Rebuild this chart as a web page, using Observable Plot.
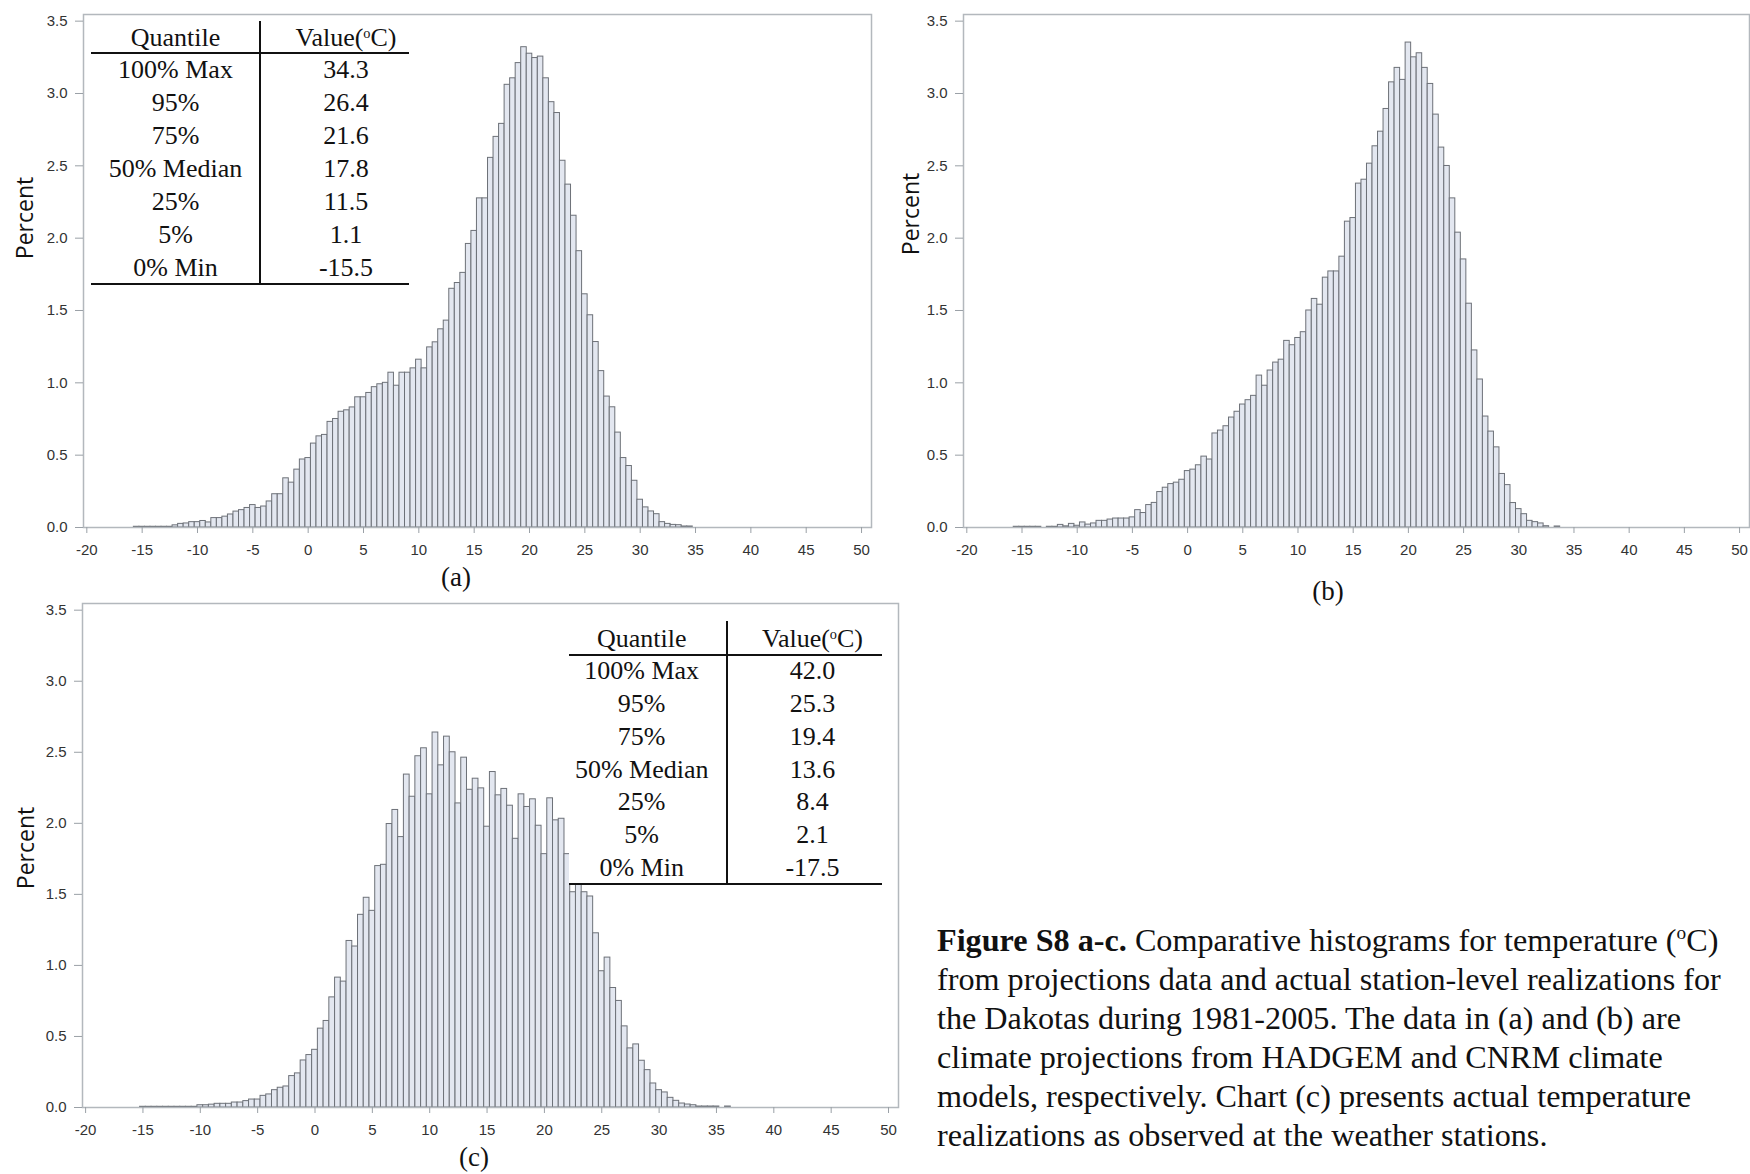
<!DOCTYPE html>
<html>
<head>
<meta charset="utf-8">
<script src="https://cdn.jsdelivr.net/npm/d3@7"></script>
<script src="https://cdn.jsdelivr.net/npm/@observablehq/plot@0.6"></script>
<style>
  html, body { margin: 0; padding: 0; background: #fff; }
  #root { position: relative; width: 1750px; height: 1174px; background: #fff; overflow: hidden; }
  .abs { position: absolute; }
  .serif { font-family: "Liberation Serif", "Times New Roman", serif; color: #111; }
  .ylab { position: absolute; font-family: "Open Sans", "Noto Sans", sans-serif; font-size: 23px; color: #111; white-space: nowrap; transform: translate(-50%, -50%) rotate(-90deg); }
  .sub { position: absolute; transform: translate(-50%, -50%); font-size: 27px; white-space: nowrap; }
  .cell { position: absolute; transform: translate(-50%, -50%); font-size: 26px; white-space: nowrap; line-height: 1; }
  .cell sup { font-size: 55%; vertical-align: 0.55em; }
  .rule { position: absolute; background: #111; }
  #caption { position: absolute; left: 937px; top: 921px; font-size: 32.2px; line-height: 39.1px; white-space: nowrap; }
  #caption sup { font-size: 60%; vertical-align: 0.6em; line-height: 0; }
</style>
</head>
<body>
<div id="root"></div>
<script>
// ---------- data ----------
// bin midpoints (bin width 0.5 deg C)
const binMid = [
  -15.5,-15,-14.5,-14,-13.5,-13,-12.5,-12,-11.5,-11,
  -10.5,-10,-9.5,-9,-8.5,-8,-7.5,-7,-6.5,-6,
  -5.5,-5,-4.5,-4,-3.5,-3,-2.5,-2,-1.5,-1,
  -0.5,0,0.5,1,1.5,2,2.5,3,3.5,4,
  4.5,5,5.5,6,6.5,7,7.5,8,8.5,9,
  9.5,10,10.5,11,11.5,12,12.5,13,13.5,14,
  14.5,15,15.5,16,16.5,17,17.5,18,18.5,19,
  19.5,20,20.5,21,21.5,22,22.5,23,23.5,24,
  24.5,25,25.5,26,26.5,27,27.5,28,28.5,29,
  29.5,30,30.5,31,31.5,32,32.5,33,33.5,34,
  34.5,35,35.5,36
];
const binHalfWidth = 0.25;

// (a) HADGEM projections, percent per bin
const pctA = [
  0.005,0.005,0.005,0.005,0.005,0.005,0.005,0.015,0.025,0.028,
  0.037,0.037,0.045,0.035,0.065,0.065,0.075,0.09,0.11,0.12,
  0.135,0.155,0.135,0.145,0.18,0.23,0.23,0.34,0.31,0.40,
  0.47,0.48,0.58,0.63,0.64,0.73,0.75,0.80,0.81,0.83,
  0.90,0.90,0.93,0.97,0.99,1.00,1.07,0.98,1.07,1.07,
  1.10,1.16,1.10,1.245,1.28,1.37,1.43,1.65,1.69,1.76,
  1.96,2.05,2.275,2.275,2.555,2.70,2.79,3.06,3.105,3.21,
  3.32,3.275,3.245,3.255,3.105,2.94,2.865,2.535,2.37,2.155,
  1.91,1.612,1.467,1.282,1.081,0.905,0.831,0.656,0.48,0.425,
  0.323,0.192,0.139,0.111,0.092,0.037,0.025,0.018,0.016,0.007,
  0.007,0,0,0
];

// (b) CNRM projections, percent per bin
const pctB = [
  0.005,0.005,0.005,0.005,0.005,0,0.005,0.005,0.018,0.008,
  0.025,0.012,0.035,0.02,0.028,0.046,0.046,0.055,0.062,0.062,
  0.062,0.07,0.12,0.10,0.155,0.17,0.245,0.275,0.30,0.31,
  0.33,0.39,0.40,0.43,0.49,0.47,0.65,0.67,0.70,0.76,
  0.80,0.85,0.88,0.91,1.05,0.98,1.085,1.14,1.16,1.29,
  1.26,1.31,1.35,1.50,1.58,1.54,1.727,1.77,1.77,1.872,
  2.114,2.139,2.377,2.404,2.515,2.635,2.736,2.893,3.077,3.177,
  3.094,3.352,3.25,3.278,3.177,3.066,2.854,2.626,2.499,2.275,
  2.038,1.853,1.547,1.224,1.023,0.767,0.663,0.554,0.37,0.293,
  0.169,0.127,0.092,0.046,0.037,0.028,0.009,0,0.007,0,
  0,0,0,0
];

// (c) station observations, percent per bin
const pctC = [
  0,0.005,0.005,0.005,0.005,0.005,0.005,0.005,0.005,0.005,
  0.005,0.016,0.016,0.02,0.026,0.026,0.026,0.035,0.035,0.045,
  0.056,0.056,0.082,0.092,0.122,0.139,0.148,0.221,0.24,0.331,
  0.369,0.406,0.555,0.609,0.775,0.914,0.886,1.172,1.133,1.356,
  1.476,1.384,1.699,1.708,1.995,2.094,1.903,2.343,2.187,2.472,
  2.528,2.204,2.639,2.408,2.61,2.50,2.14,2.462,2.236,2.314,
  2.246,1.976,2.361,2.197,2.242,2.124,1.891,2.204,2.115,2.169,
  1.983,1.783,2.176,2.021,2.032,1.783,1.515,1.62,1.515,1.485,
  1.226,0.959,1.055,0.841,0.75,0.571,0.416,0.444,0.329,0.263,
  0.169,0.122,0.106,0.068,0.047,0.028,0.021,0.016,0.007,0.007,
  0.007,0.007,0,0.007
];

const xTicks = [-20,-15,-10,-5,0,5,10,15,20,25,30,35,40,45,50];
const yTicks = [0,0.5,1.0,1.5,2.0,2.5,3.0,3.5];

const quantileLabels = ["100% Max","95%","75%","50% Median","25%","5%","0% Min"];
const quantValuesA = ["34.3","26.4","21.6","17.8","11.5","1.1","-15.5"];
const quantValuesC = ["42.0","25.3","19.4","13.6","8.4","2.1","-17.5"];

const captionBold = "Figure S8 a-c.";
const captionLines = [
  " Comparative histograms for temperature (<sup>o</sup>C)",
  "from projections data and actual station-level realizations for",
  "the Dakotas during 1981-2005. The data in (a) and (b) are",
  "climate projections from HADGEM and CNRM climate",
  "models, respectively. Chart (c) presents actual temperature",
  "realizations as observed at the weather stations."
];

// ---------- drawing ----------
const root = document.getElementById("root");

function histPlot(values, o) {
  const data = binMid.map((m, i) => ({mid: m, pct: values[i]})).filter(d => d.pct > 0);
  const svg = Plot.plot({
    width: o.width, height: o.height,
    marginLeft: o.ml, marginRight: o.mr, marginTop: o.mt, marginBottom: o.mb,
    style: {fontFamily: "'Liberation Sans', Arial, sans-serif", fontSize: "15px", color: "#333", background: "transparent", overflow: "visible"},
    x: {domain: o.xDomain},
    y: {domain: o.yDomain},
    marks: [
      Plot.rectY(data, {x1: d => d.mid - binHalfWidth, x2: d => d.mid + binHalfWidth, y: "pct",
        fill: "#e3e7f0", stroke: "#6d7178", strokeWidth: 1}),
      Plot.frame({stroke: "#b3b8bd", strokeWidth: 1.5}),
      Plot.axisX({ticks: xTicks, tickSize: 6, tickPadding: 11, stroke: "#9aa0a6", fill: "#333",
        label: null, tickFormat: d => String(d)}),
      Plot.axisY({ticks: yTicks, tickSize: 8, tickPadding: 8, stroke: "#9aa0a6", fill: "#333",
        label: null, tickFormat: d => d.toFixed(1)})
    ]
  });
  svg.style.position = "absolute";
  svg.style.left = o.left + "px";
  svg.style.top = o.top + "px";
  root.appendChild(svg);
}

histPlot(pctA, {left: 0, top: 0, width: 880, height: 560, ml: 83, mr: 9, mt: 14, mb: 33,
  xDomain: [-20.3, 50.9], yDomain: [0, 3.546]});
histPlot(pctB, {left: 880, top: 0, width: 870, height: 560, ml: 83, mr: 1, mt: 14, mb: 33,
  xDomain: [-20.3, 50.9], yDomain: [0, 3.546]});
histPlot(pctC, {left: 0, top: 590, width: 900, height: 550, ml: 82, mr: 2, mt: 13, mb: 33,
  xDomain: [-20.27, 50.87], yDomain: [0, 3.547]});

function addDiv(cls, html, x, y) {
  const d = document.createElement("div");
  d.className = cls;
  d.innerHTML = html;
  d.style.left = x + "px";
  d.style.top = y + "px";
  root.appendChild(d);
  return d;
}

function rule(x, y, w, h) {
  const d = document.createElement("div");
  d.className = "rule";
  d.style.left = x + "px"; d.style.top = y + "px";
  d.style.width = w + "px"; d.style.height = h + "px";
  root.appendChild(d);
}

function drawTable(values, t) {
  const bg = document.createElement("div");
  bg.className = "abs";
  bg.style.left = t.left + "px"; bg.style.top = (t.top - 2) + "px";
  bg.style.width = (t.right - t.left) + "px"; bg.style.height = (t.bottom - t.top + 3) + "px";
  bg.style.background = "#fff";
  root.appendChild(bg);
  rule(t.divider - 1, t.top, 2, t.bottom - t.top);
  rule(t.left, t.headerLine - 1, t.right - t.left, 2);
  rule(t.left, t.bottom - 1, t.right - t.left, 2);
  const hc = (t.top + t.headerLine) / 2 + 1;
  addDiv("cell serif", "Quantile", t.c1, hc);
  addDiv("cell serif", "Value(<sup>o</sup>C)", t.c2, hc);
  const rowH = (t.bottom - t.headerLine) / quantileLabels.length;
  quantileLabels.forEach((lab, i) => {
    const cy = t.headerLine + rowH * (i + 0.5);
    addDiv("cell serif", lab, t.c1, cy);
    addDiv("cell serif", values[i], t.c2, cy);
  });
}

drawTable(quantValuesA, {left: 90.7, right: 409.3, divider: 260, top: 20.7, headerLine: 53.3, bottom: 284, c1: 175.5, c2: 346});
drawTable(quantValuesC, {left: 569, right: 881.7, divider: 726.5, top: 621, headerLine: 655, bottom: 884, c1: 641.7, c2: 812.5});

// axis titles
addDiv("ylab", "Percent", 24, 218);
addDiv("ylab", "Percent", 910, 214);
addDiv("ylab", "Percent", 24.5, 848);

// panel letters
addDiv("sub serif", "(a)", 456, 577);
addDiv("sub serif", "(b)", 1328, 591);
addDiv("sub serif", "(c)", 474, 1157);

// caption
const cap = document.createElement("div");
cap.id = "caption";
cap.className = "serif";
cap.innerHTML = "<b>" + captionBold + "</b>" + captionLines.join("<br>");
root.appendChild(cap);
</script>
</body>
</html>
